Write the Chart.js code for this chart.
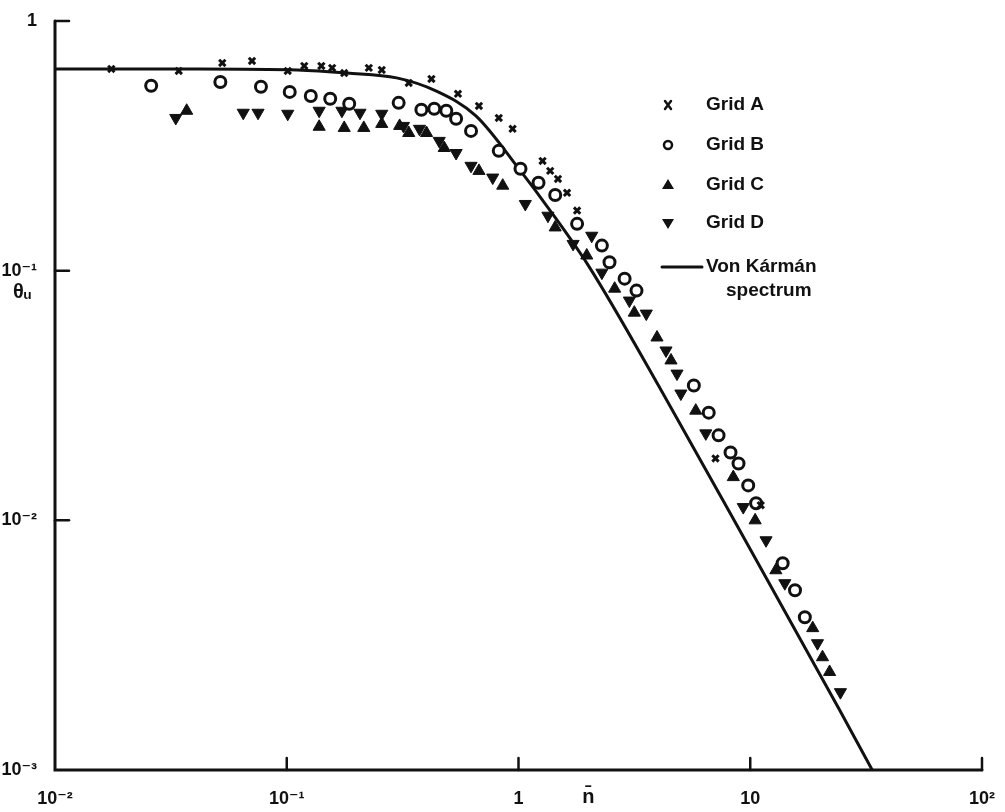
<!DOCTYPE html>
<html lang="en">
<head>
    <meta charset="UTF-8">
    <title>Theta_u spectrum</title>
    <script src="https://cdn.jsdelivr.net/npm/chart.js"></script>
    <style>
        * {
            margin: 0;
            padding: 0;
            box-sizing: border-box;
        }
        body {
            background-color: #fff;
            width: 1005px;
            height: 812px;
            overflow: hidden;
        }
        .chart-box {
            position: relative;
            width: 1005px;
            height: 812px;
        }
    </style>
</head>
<body>
    <div class="chart-box">
        <canvas id="specChart" width="1005" height="812"></canvas>
    </div>

    <script>
        // axis ticks
        const xTicks = [0.01, 0.1, 1, 10, 100];
        const xTickLabels = ['10⁻²', '10⁻¹', '1', '10', '10²'];
        const yTicks = [0.001, 0.01, 0.1, 1];
        const yTickLabels = ['10⁻³', '10⁻²', '10⁻¹', '1'];

        // Grid A (x)
        const gridAn = [0.0175, 0.0342, 0.0527, 0.0708, 0.101, 0.119, 0.141, 0.157, 0.177, 0.226, 0.257, 0.336,
            0.421, 0.548, 0.675, 0.822, 0.943, 1.27, 1.37, 1.48, 1.62, 1.79, 7.08, 11.1];
        const gridAt = [0.643, 0.631, 0.679, 0.692, 0.631, 0.661, 0.661, 0.649, 0.619, 0.649, 0.637, 0.565,
            0.586, 0.511, 0.457, 0.409, 0.370, 0.275, 0.251, 0.233, 0.205, 0.174, 0.0177, 0.0115];

        // Grid B (open circles)
        const gridBn = [0.026, 0.0517, 0.0774, 0.103, 0.127, 0.154, 0.186, 0.304, 0.381, 0.433, 0.488, 0.538,
            0.624, 0.822, 1.02, 1.22, 1.44, 1.79, 2.29, 2.47, 2.87, 3.23, 5.71, 6.62, 7.30, 8.22, 8.90,
            9.80, 10.6, 13.8, 15.6, 17.2];
        const gridBt = [0.550, 0.570, 0.545, 0.520, 0.501, 0.488, 0.466, 0.470, 0.441, 0.445, 0.437, 0.406,
            0.363, 0.302, 0.256, 0.225, 0.201, 0.154, 0.126, 0.108, 0.0929, 0.0832, 0.0347, 0.0270, 0.0219,
            0.0187, 0.0169, 0.0138, 0.0117, 0.00673, 0.00525, 0.00409];

        // Grid C (up triangles)
        const gridCn = [0.037, 0.138, 0.177, 0.215, 0.257, 0.307, 0.336, 0.401, 0.478, 0.675, 0.855, 1.44,
            1.97, 2.60, 3.16, 3.96, 4.55, 5.82, 8.45, 10.5, 12.9, 18.6, 20.5, 22.0];
        const gridCt = [0.437, 0.377, 0.373, 0.373, 0.387, 0.380, 0.356, 0.356, 0.310, 0.251, 0.219, 0.149,
            0.115, 0.0847, 0.0679, 0.0540, 0.0437, 0.0275, 0.0149, 0.0100, 0.00631, 0.00370, 0.00283, 0.00247];

        // Grid D (down triangles)
        const gridDn = [0.0332, 0.0649, 0.0752, 0.101, 0.138, 0.173, 0.207, 0.257, 0.319, 0.374, 0.455, 0.538,
            0.624, 0.774, 1.07, 1.34, 1.72, 2.07, 2.29, 3.01, 3.56, 4.33, 4.83, 5.02, 6.43, 9.33, 11.7,
            14.1, 19.5, 24.5];
        const gridDt = [0.409, 0.429, 0.429, 0.425, 0.437, 0.437, 0.429, 0.425, 0.380, 0.370, 0.331, 0.296,
            0.263, 0.236, 0.185, 0.166, 0.128, 0.138, 0.0982, 0.0759, 0.0673, 0.0479, 0.0387, 0.0322,
            0.0223, 0.0113, 0.00832, 0.00560, 0.00322, 0.00205];

        // Von Karman curve
        const vkN = [0.01, 0.0417, 0.111, 0.182, 0.298, 0.44, 0.655, 1.02, 1.34, 2.0, 4.37, 10, 24.3, 33.6];
        const vkT = [0.643, 0.643, 0.637, 0.619, 0.592, 0.525, 0.417, 0.251, 0.179, 0.105, 0.0302, 0.00766,
            0.00174, 0.001];

        const pts = (xs, ys) => xs.map((v, i) => ({ x: v, y: ys[i] }));
        const ink = '#111';
        const labelFont = 'bold 19px "Liberation Sans", "DejaVu Sans", sans-serif';

        // axes lines, inner ticks, axis titles and legend
        const decorations = {
            id: 'decorations',
            afterDraw(chart) {
                const ctx = chart.ctx;
                const xs = chart.scales.x;
                const ys = chart.scales.y;
                const a = chart.chartArea;
                ctx.save();
                ctx.strokeStyle = ink;
                ctx.fillStyle = ink;
                ctx.lineCap = 'round';

                // axes
                ctx.lineWidth = 3;
                ctx.beginPath();
                ctx.moveTo(a.left, a.top);
                ctx.lineTo(a.left, a.bottom);
                ctx.lineTo(a.right, a.bottom);
                ctx.stroke();

                // inner ticks
                ctx.lineWidth = 2.5;
                yTicks.forEach(v => {
                    const py = ys.getPixelForValue(v);
                    if (v === 0.001) return;
                    ctx.beginPath();
                    ctx.moveTo(a.left, py);
                    ctx.lineTo(a.left + 14, py);
                    ctx.stroke();
                });
                xTicks.forEach(v => {
                    const px = xs.getPixelForValue(v);
                    if (v === 0.01) return;
                    ctx.beginPath();
                    ctx.moveTo(px, a.bottom);
                    ctx.lineTo(px, a.bottom - 12);
                    ctx.stroke();
                });

                // axis titles
                ctx.font = 'bold 20px "Liberation Sans", "DejaVu Sans", sans-serif';
                ctx.textAlign = 'center';
                ctx.textBaseline = 'middle';
                ctx.fillText('n̄', xs.getPixelForValue(2), 797);
                ctx.fillText('θᵤ', 22, 292);

                // legend
                const lx = 668;
                const tx = 706;
                const rows = [
                    { y: 105, text: 'Grid A', mark: 'x' },
                    { y: 145, text: 'Grid B', mark: 'o' },
                    { y: 185, text: 'Grid C', mark: 'up' },
                    { y: 223, text: 'Grid D', mark: 'down' }
                ];
                ctx.font = labelFont;
                ctx.textAlign = 'left';
                rows.forEach(r => {
                    ctx.lineWidth = 2.5;
                    if (r.mark === 'x') {
                        ctx.beginPath();
                        ctx.moveTo(lx - 3, r.y - 4); ctx.lineTo(lx + 3, r.y + 4);
                        ctx.moveTo(lx + 3, r.y - 4); ctx.lineTo(lx - 3, r.y + 4);
                        ctx.stroke();
                    } else if (r.mark === 'o') {
                        ctx.beginPath();
                        ctx.arc(lx, r.y, 4, 0, Math.PI * 2);
                        ctx.stroke();
                    } else if (r.mark === 'up') {
                        ctx.beginPath();
                        ctx.moveTo(lx, r.y - 6); ctx.lineTo(lx + 6, r.y + 4); ctx.lineTo(lx - 6, r.y + 4);
                        ctx.closePath();
                        ctx.fill();
                    } else {
                        ctx.beginPath();
                        ctx.moveTo(lx, r.y + 6); ctx.lineTo(lx + 6, r.y - 4); ctx.lineTo(lx - 6, r.y - 4);
                        ctx.closePath();
                        ctx.fill();
                    }
                    ctx.fillText(r.text, tx, r.y);
                });
                ctx.lineWidth = 3;
                ctx.beginPath();
                ctx.moveTo(662, 267);
                ctx.lineTo(702, 267);
                ctx.stroke();
                ctx.fillText('Von Kármán', 706, 267);
                ctx.fillText('spectrum', 726, 291);
                ctx.restore();
            }
        };

        new Chart(document.getElementById('specChart'), {
            type: 'scatter',
            data: {
                datasets: [{
                    label: 'Von Kármán spectrum',
                    data: pts(vkN, vkT),
                    showLine: true,
                    borderColor: ink,
                    borderWidth: 3,
                    pointRadius: 0,
                    cubicInterpolationMode: 'monotone',
                    order: 5
                }, {
                    label: 'Grid A',
                    data: pts(gridAn, gridAt),
                    pointStyle: 'crossRot',
                    pointRadius: 4.5,
                    borderColor: ink,
                    borderWidth: 3,
                    order: 1
                }, {
                    label: 'Grid B',
                    data: pts(gridBn, gridBt),
                    pointStyle: 'circle',
                    pointRadius: 5.5,
                    backgroundColor: '#fff',
                    borderColor: ink,
                    borderWidth: 3,
                    order: 1
                }, {
                    label: 'Grid C',
                    data: pts(gridCn, gridCt),
                    pointStyle: 'triangle',
                    pointRadius: 7,
                    backgroundColor: ink,
                    borderColor: ink,
                    borderWidth: 1,
                    order: 1
                }, {
                    label: 'Grid D',
                    data: pts(gridDn, gridDt),
                    pointStyle: 'triangle',
                    rotation: 180,
                    pointRadius: 7,
                    backgroundColor: ink,
                    borderColor: ink,
                    borderWidth: 1,
                    order: 1
                }]
            },
            options: {
                responsive: false,
                animation: false,
                layout: {
                    padding: { top: 21, right: 10, left: 0, bottom: 0 }
                },
                plugins: {
                    legend: { display: false },
                    tooltip: { enabled: false }
                },
                scales: {
                    x: {
                        type: 'logarithmic',
                        min: 0.01,
                        max: 100,
                        grid: { display: false },
                        border: { display: false },
                        afterBuildTicks: (scale) => { scale.ticks = xTicks.map(v => ({ value: v })); },
                        afterFit: (scale) => { scale.height = 42; },
                        ticks: {
                            color: ink,
                            font: { family: '"Liberation Sans", "DejaVu Sans", sans-serif', size: 18, weight: 'bold' },
                            padding: 10,
                            maxRotation: 0,
                            autoSkip: false,
                            callback: (v) => {
                                const i = xTicks.indexOf(v);
                                return i >= 0 ? xTickLabels[i] : '';
                            }
                        }
                    },
                    y: {
                        type: 'logarithmic',
                        min: 0.001,
                        max: 1,
                        grid: { display: false },
                        border: { display: false },
                        afterBuildTicks: (scale) => { scale.ticks = yTicks.map(v => ({ value: v })); },
                        afterFit: (scale) => { scale.width = 55; },
                        ticks: {
                            color: ink,
                            font: { family: '"Liberation Sans", "DejaVu Sans", sans-serif', size: 18, weight: 'bold' },
                            padding: 10,
                            autoSkip: false,
                            callback: (v) => {
                                const i = yTicks.indexOf(v);
                                return i >= 0 ? yTickLabels[i] : '';
                            }
                        }
                    }
                }
            },
            plugins: [decorations]
        });
    </script>
</body>
</html>
